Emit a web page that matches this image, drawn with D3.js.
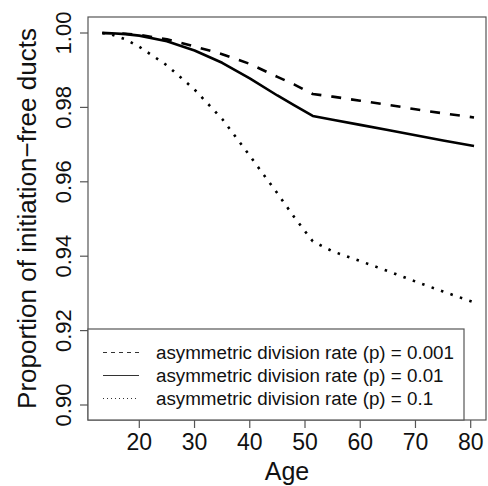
<!DOCTYPE html>
<html><head><meta charset="utf-8">
<script src="https://cdn.jsdelivr.net/npm/d3@7"></script>
<style>body{margin:0;background:#fff}svg{display:block}</style>
</head><body>
<script>
const ages = [13.3, 15, 17.5, 20, 25, 30, 35, 40, 45, 48, 51.4, 55, 60, 65, 70, 75, 80.6];
const p0001 = [1.0000, 0.99995, 0.9998, 0.9995, 0.9983, 0.9964, 0.9943, 0.9917, 0.9882, 0.9862, 0.9836, 0.9829, 0.9818, 0.9807, 0.9795, 0.9784, 0.9773];
const p001  = [1.0000, 0.99995, 0.9997, 0.9993, 0.9978, 0.9953, 0.9920, 0.9878, 0.9832, 0.9806, 0.9777, 0.9767, 0.9753, 0.9739, 0.9725, 0.9711, 0.9696];
const p01   = [1.0000, 0.9996, 0.9983, 0.9963, 0.9913, 0.9848, 0.9769, 0.9670, 0.9569, 0.9506, 0.9440, 0.9413, 0.9387, 0.9360, 0.9332, 0.9305, 0.9276];
const seriesLabels = ["asymmetric division rate (p) = 0.001", "asymmetric division rate (p) = 0.01", "asymmetric division rate (p) = 0.1"];
const xTicks = [20, 30, 40, 50, 60, 70, 80];
const yTicks = [0.90, 0.92, 0.94, 0.96, 0.98, 1.00];

const W = 488, H = 486;
const L = 88, R = 486, T = 17, B = 420;
const FONT = "Liberation Sans, Arial, Helvetica, sans-serif";

const svg = d3.select("body").append("svg").attr("width", W).attr("height", H);
const x = d3.scaleLinear().domain([20, 80]).range([139.3, 470.7]);
const y = d3.scaleLinear().domain([0.90, 1.00]).range([405, 33]);

const styles = [
  {dash: "10,10", leg: "4,4"},
  {dash: null, leg: null},
  {dash: "2.5,7.5", leg: "1,3"}
];
const series = [p0001, p001, p01];

const line = d3.line().x((d, i) => x(ages[i])).y(d => y(d));
series.forEach((s, k) => {
  svg.append("path").datum(s).attr("d", line)
    .attr("fill", "none").attr("stroke", "#000").attr("stroke-width", 2.6)
    .attr("stroke-dasharray", styles[k].dash).attr("stroke-linecap", "butt")
    .attr("stroke-linejoin", "round");
});

// frame
svg.append("rect").attr("x", L).attr("y", T).attr("width", R - L).attr("height", B - T)
  .attr("fill", "none").attr("stroke", "#555").attr("stroke-width", 1.2);

// y axis
const yAxis = svg.append("g");
yTicks.forEach(t => {
  yAxis.append("line").attr("x1", L - 8).attr("x2", L).attr("y1", y(t)).attr("y2", y(t))
    .attr("stroke", "#555").attr("stroke-width", 1.2);
  yAxis.append("text").attr("transform", `translate(71,${y(t)}) rotate(-90)`)
    .attr("text-anchor", "middle").attr("font-family", FONT).attr("font-size", 22)
    .attr("fill", "#111").text(t.toFixed(2));
});
// x axis
xTicks.forEach(t => {
  svg.append("line").attr("x1", x(t)).attr("x2", x(t)).attr("y1", B).attr("y2", B + 8)
    .attr("stroke", "#555").attr("stroke-width", 1.2);
  svg.append("text").attr("x", x(t)).attr("y", 449.5).attr("text-anchor", "middle")
    .attr("font-family", FONT).attr("font-size", 23).attr("fill", "#111").text(t);
});

svg.append("text").attr("x", (L + R) / 2).attr("y", 480).attr("text-anchor", "middle")
  .attr("font-family", FONT).attr("font-size", 25).attr("fill", "#111").text("Age");
svg.append("text").attr("transform", `translate(36,${(T + B) / 2}) rotate(-90)`)
  .attr("text-anchor", "middle").attr("font-family", FONT).attr("font-size", 26)
  .attr("fill", "#111").text("Proportion of initiation\u2212free ducts");

// legend
const lg = svg.append("g");
lg.append("rect").attr("x", L).attr("y", 329).attr("width", 464 - L).attr("height", B - 329)
  .attr("fill", "#fff").attr("stroke", "#555").attr("stroke-width", 1.2);
seriesLabels.forEach((lab, k) => {
  const yy = 352.5 + k * 23;
  lg.append("line").attr("x1", 103).attr("x2", 139).attr("y1", yy).attr("y2", yy)
    .attr("stroke", "#333").attr("stroke-width", 1).attr("stroke-dasharray", styles[k].leg);
  lg.append("text").attr("x", 156).attr("y", yy).attr("dy", "0.35em")
    .attr("font-family", FONT).attr("font-size", 18.8).attr("fill", "#111").text(lab);
});
</script>
</body></html>
